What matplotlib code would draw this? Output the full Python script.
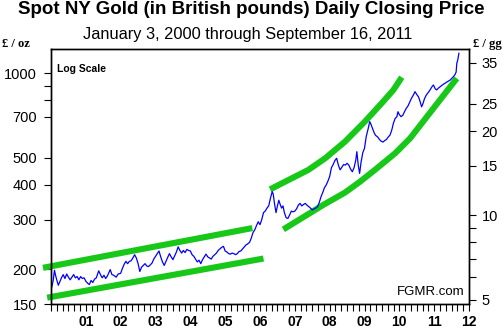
import matplotlib
matplotlib.use('Agg')
import matplotlib.pyplot as plt
from matplotlib.ticker import FixedLocator, NullFormatter, FixedFormatter

plt.rcParams['font.family'] = ['Liberation Sans', 'DejaVu Sans']

# ---- Data ----
years = [
    2000.00, 2000.02, 2000.06, 2000.10, 2000.13, 2000.17, 2000.21, 2000.25, 2000.30, 2000.35,
    2000.40, 2000.45, 2000.50, 2000.55, 2000.60, 2000.65, 2000.70, 2000.75, 2000.80, 2000.85,
    2000.90, 2000.95, 2001.00, 2001.05, 2001.10, 2001.15, 2001.20, 2001.25, 2001.30, 2001.37,
    2001.42, 2001.47, 2001.52, 2001.57, 2001.62, 2001.70, 2001.75, 2001.80, 2001.87, 2001.93,
    2002.00, 2002.05, 2002.10, 2002.15, 2002.20, 2002.25, 2002.30, 2002.35, 2002.40, 2002.45,
    2002.50, 2002.55, 2002.60, 2002.65, 2002.70, 2002.75, 2002.80, 2002.85, 2002.90, 2002.95,
    2003.00, 2003.05, 2003.10, 2003.15, 2003.20, 2003.25, 2003.30, 2003.35, 2003.40, 2003.45,
    2003.50, 2003.55, 2003.60, 2003.65, 2003.70, 2003.75, 2003.80, 2003.85, 2003.90, 2003.95,
    2004.00, 2004.05, 2004.10, 2004.15, 2004.20, 2004.25, 2004.30, 2004.35, 2004.40, 2004.45,
    2004.50, 2004.55, 2004.60, 2004.65, 2004.70, 2004.75, 2004.80, 2004.85, 2004.90, 2004.95,
    2005.00, 2005.05, 2005.10, 2005.15, 2005.20, 2005.25, 2005.30, 2005.35, 2005.40, 2005.45,
    2005.50, 2005.55, 2005.60, 2005.65, 2005.70, 2005.75, 2005.80, 2005.85, 2005.90, 2005.95,
    2006.00, 2006.05, 2006.10, 2006.15, 2006.20, 2006.25, 2006.30, 2006.35, 2006.38, 2006.42,
    2006.46, 2006.50, 2006.54, 2006.58, 2006.62, 2006.66, 2006.70, 2006.75, 2006.80, 2006.85,
    2006.90, 2006.95, 2007.00, 2007.05, 2007.10, 2007.15, 2007.20, 2007.25, 2007.30, 2007.35,
    2007.40, 2007.45, 2007.50, 2007.55, 2007.60, 2007.65, 2007.70, 2007.75, 2007.80, 2007.85,
    2007.90, 2007.95, 2008.00, 2008.05, 2008.10, 2008.15, 2008.20, 2008.25, 2008.30, 2008.35,
    2008.40, 2008.45, 2008.50, 2008.55, 2008.60, 2008.65, 2008.70, 2008.75, 2008.78, 2008.82,
    2008.86, 2008.90, 2008.95, 2009.00, 2009.05, 2009.10, 2009.15, 2009.18, 2009.22, 2009.28,
    2009.32, 2009.38, 2009.43, 2009.48, 2009.53, 2009.58, 2009.63, 2009.68, 2009.73, 2009.78,
    2009.83, 2009.88, 2009.93, 2009.96, 2010.00, 2010.05, 2010.10, 2010.15, 2010.20, 2010.25,
    2010.30, 2010.35, 2010.40, 2010.45, 2010.50, 2010.55, 2010.60, 2010.64, 2010.68, 2010.72,
    2010.76, 2010.80, 2010.85, 2010.90, 2010.95, 2010.98, 2011.03, 2011.07, 2011.12, 2011.17,
    2011.22, 2011.27, 2011.31, 2011.36, 2011.41, 2011.46, 2011.51, 2011.55, 2011.60, 2011.63,
    2011.65, 2011.68, 2011.71,
]
prices = [
    178, 172, 181, 198, 190, 182, 175, 180, 186, 191,
    185, 192, 187, 183, 187, 191, 186, 188, 183, 188,
    185, 186, 181, 178, 176, 182, 179, 184, 186, 197,
    191, 186, 190, 185, 189, 199, 191, 190, 187, 192,
    193, 201, 208, 213, 209, 213, 214, 219, 225, 219,
    209, 196, 203, 206, 209, 205, 204, 207, 210, 217,
    222, 227, 232, 221, 212, 206, 213, 220, 227, 221,
    216, 223, 230, 240, 233, 228, 233, 229, 235, 233,
    232, 225, 222, 217, 212, 215, 209, 216, 221, 226,
    221, 219, 217, 222, 225, 228, 233, 236, 239, 241,
    232, 230, 227, 226, 228, 227, 225, 227, 231, 232,
    236, 240, 244, 246, 249, 258, 270, 276, 286, 295,
    288, 300, 318, 322, 330, 336, 358, 378, 370, 340,
    318, 336, 352, 340, 330, 336, 318, 305, 303, 312,
    322, 320, 322, 328, 338, 343, 336, 340, 343, 338,
    334, 330, 325, 328, 330, 334, 345, 362, 375, 390,
    399, 412, 428, 460, 472, 488, 497, 470, 452, 462,
    472, 470, 477, 470, 455, 445, 460, 490, 525, 470,
    439, 480, 520, 540, 595, 630, 672, 660, 640, 612,
    600, 592, 580, 572, 568, 575, 580, 592, 601, 625,
    663, 690, 700, 729, 712, 700, 708, 730, 750, 765,
    790, 815, 835, 860, 840, 824, 790, 759, 780, 810,
    830, 845, 860, 880, 900, 908, 880, 872, 885, 895,
    905, 915, 921, 930, 938, 946, 960, 972, 990, 1010,
    1085, 1120, 1179,
]

# Trend channel lines (green)
chan1_upper_years = [1999.77, 2005.78]
chan1_upper_prices = [202, 280]
chan1_lower_years = [1999.89, 2006.10]
chan1_lower_prices = [158, 218]
chan2_upper_years = [2006.29, 2006.72, 2007.39, 2007.87, 2008.44, 2009.01, 2009.49, 2009.83, 2010.07]
chan2_upper_prices = [385, 410, 452, 497, 570, 672, 781, 872, 968]
chan2_lower_years = [2006.67, 2007.82, 2008.44, 2008.87, 2009.30, 2009.88, 2010.31, 2010.98, 2011.65]
chan2_lower_prices = [277, 339, 375, 410, 452, 518, 586, 750, 959]

left_ticks = [150, 200, 300, 400, 500, 700, 1000]
left_minor = [800, 900]
right_ticks = [5, 10, 15, 20, 25, 35]
right_minor = [6, 7, 8, 9]
year_ticks = list(range(2001, 2013))
year_labels = ['01', '02', '03', '04', '05', '06', '07', '08', '09', '10', '11', '12']

GRAMS_PER_OZ = 31.1035
Y_MIN, Y_MAX = 150, 1221

# ---- Figure ----
fig = plt.figure(figsize=(5.03, 3.29), dpi=100)
ax = fig.add_axes([51/503, 1 - 304/329, 418/503, 255/329])
ax.set_yscale('log')
ax.set_xlim(2000, 2012)
ax.set_ylim(Y_MIN, Y_MAX)

green = '#18c818'
for xs, ys in [(chan1_upper_years, chan1_upper_prices),
               (chan1_lower_years, chan1_lower_prices),
               (chan2_upper_years, chan2_upper_prices),
               (chan2_lower_years, chan2_lower_prices)]:
    ax.plot(xs, ys, color=green, lw=4.4, solid_capstyle='butt', clip_on=False, zorder=2)

ax.plot(years, prices, color='#0000ff', lw=0.9, zorder=3)

# Left axis ticks
ax.yaxis.set_major_locator(FixedLocator(left_ticks))
ax.yaxis.set_major_formatter(FixedFormatter([str(t) for t in left_ticks]))
ax.yaxis.set_minor_locator(FixedLocator(left_minor))
ax.yaxis.set_minor_formatter(NullFormatter())
ax.tick_params(axis='y', which='both', direction='out', length=5, width=0.8,
               labelsize=10.5, pad=5)

# X axis ticks
ax.xaxis.set_major_locator(FixedLocator(year_ticks))
ax.xaxis.set_major_formatter(FixedFormatter(year_labels))
ax.xaxis.set_minor_locator(FixedLocator([2000 + i / 6 for i in range(72)]))
ax.tick_params(axis='x', which='both', direction='out', length=5, width=0.8,
               labelsize=10, pad=3)
for lbl in ax.get_xticklabels():
    lbl.set_fontweight('bold')

# Right axis (per gram)
ax2 = ax.twinx()
ax2.set_yscale('log')
ax2.set_ylim(Y_MIN / GRAMS_PER_OZ, Y_MAX / GRAMS_PER_OZ)
ax2.yaxis.set_major_locator(FixedLocator(right_ticks))
ax2.yaxis.set_major_formatter(FixedFormatter([str(t) for t in right_ticks]))
ax2.yaxis.set_minor_locator(FixedLocator(right_minor))
ax2.yaxis.set_minor_formatter(NullFormatter())
ax2.tick_params(axis='y', which='both', direction='out', length=5, width=0.8,
                labelsize=10.5, pad=4)

for a in (ax, ax2):
    for s in a.spines.values():
        s.set_linewidth(1.0)
        s.set_color('black')

# Texts
fig.text(251/503, 1 - 10/329, 'Spot NY Gold (in British pounds) Daily Closing Price',
         ha='center', va='center', fontsize=13.5, fontweight='bold')
fig.text(248/503, 1 - 34/329, 'January 3, 2000 through September 16, 2011',
         ha='center', va='center', fontsize=11.8)
fig.text(2/503, 1 - 44/329, '£ / oz', ha='left', va='center', fontsize=9,
         fontweight='bold', family=['Liberation Serif', 'DejaVu Serif'])
fig.text(502/503, 1 - 44/329, '£ / gg', ha='right', va='center', fontsize=9,
         fontweight='bold', family=['Liberation Serif', 'DejaVu Serif'])
ax.text(57/503, 1 - 69/329, 'Log Scale', transform=fig.transFigure, ha='left',
        va='center', fontsize=7.5, fontweight='bold')
ax.text(465/503, 1 - 292/329, 'FGMR.com', transform=fig.transFigure, ha='right',
        va='center', fontsize=9.5)

fig.savefig('out.png', dpi=100)
